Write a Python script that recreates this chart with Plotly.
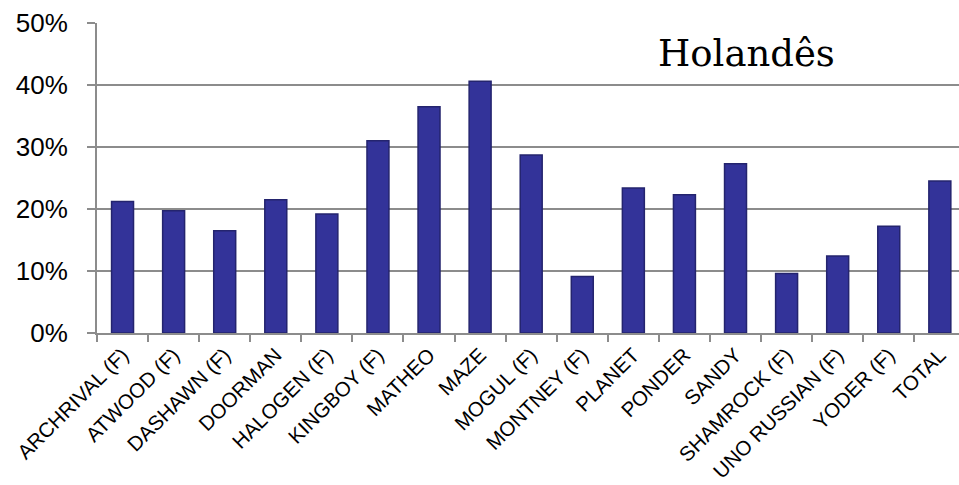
import plotly.graph_objects as go

# Share of responses per variety
categories = [
    "ARCHRIVAL (F)", "ATWOOD (F)", "DASHAWN (F)", "DOORMAN", "HALOGEN (F)",
    "KINGBOY (F)", "MATHEO", "MAZE", "MOGUL (F)", "MONTNEY (F)", "PLANET",
    "PONDER", "SANDY", "SHAMROCK (F)", "UNO RUSSIAN (F)", "YODER (F)", "TOTAL",
]
values = [
    0.212, 0.197, 0.165, 0.215, 0.192, 0.310, 0.365, 0.406, 0.287, 0.091,
    0.234, 0.223, 0.273, 0.096, 0.124, 0.172, 0.245,
]
y_ticks = [0, 0.1, 0.2, 0.3, 0.4, 0.5]
y_tick_labels = ["0%", "10%", "20%", "30%", "40%", "50%"]
title_text = "Holandês"

W, H = 959, 485
M_L, M_R, M_T, M_B = 97, 0, 23, 152

fig = go.Figure(
    go.Bar(
        x=categories,
        y=values,
        width=0.43,
        marker=dict(color="#333399", line=dict(color="#24246e", width=1.5)),
    )
)

fig.update_layout(
    width=W,
    height=H,
    margin=dict(l=M_L, r=M_R, t=M_T, b=M_B, pad=0),
    paper_bgcolor="white",
    plot_bgcolor="white",
    showlegend=False,
    font=dict(family="Liberation Sans, Arial, sans-serif", color="black"),
    annotations=[
        dict(
            text=title_text,
            xref="paper",
            yref="paper",
            x=0.754,
            y=0.903,
            xanchor="center",
            yanchor="middle",
            showarrow=False,
            font=dict(family="DejaVu Serif, serif", size=37, color="black"),
        )
    ],
)

fig.update_xaxes(
    type="category",
    range=[-0.5, 16.375],
    automargin=False,
    tickangle=-45,
    tickfont=dict(size=20.5),
    ticks="outside",
    tickson="boundaries",
    ticklen=7,
    tickcolor="#8c8c8c",
    tickwidth=2,
    showline=True,
    linecolor="#8c8c8c",
    linewidth=2,
    showgrid=False,
)

fig.update_yaxes(
    range=[0, 0.5],
    automargin=False,
    tickvals=y_ticks,
    ticktext=y_tick_labels,
    tickfont=dict(size=26),
    ticks="outside",
    ticklen=8,
    tickcolor="#8c8c8c",
    tickwidth=2,
    ticklabelstandoff=14,
    showline=True,
    linecolor="#8c8c8c",
    linewidth=2,
    showgrid=True,
    gridcolor="#8c8c8c",
    gridwidth=2,
    zeroline=False,
)

fig.write_html("out.html")
